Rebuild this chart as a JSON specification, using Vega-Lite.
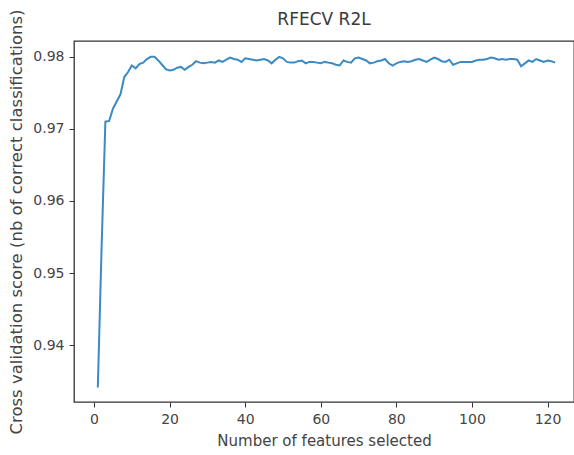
{
  "$schema": "https://vega.github.io/schema/vega-lite/v6.json",
  "width": 500,
  "height": 361,
  "autosize": {"type": "none"},
  "padding": {"left": 74, "top": 41, "right": 0, "bottom": 53},
  "background": "white",
  "title": {"text": "RFECV R2L", "fontSize": 17, "font": "DejaVu Sans", "fontWeight": "normal", "color": "#3a3a3a", "offset": 12, "dy": 32, "anchor": "middle", "frame": "group"},
  "config": {
    "view": {"stroke": "#333", "strokeWidth": 1.3},
    "axis": {"grid": false, "domain": false, "tickColor": "#333", "tickSize": 5, "labelFont": "DejaVu Sans", "labelFontSize": 14, "labelColor": "#444", "titleFont": "DejaVu Sans", "titleFontSize": 15, "titleFontWeight": "normal", "titleColor": "#444"}
  },
  "data": {"values": [
    {"n":1,"score":0.9341},{"n":2,"score":0.9535},{"n":3,"score":0.9710},{"n":4,"score":0.9711},{"n":5,"score":0.9728},{"n":6,"score":0.9738},{"n":7,"score":0.9748},{"n":8,"score":0.9772},{"n":9,"score":0.9779},{"n":10,"score":0.9788},
    {"n":11,"score":0.9784},{"n":12,"score":0.9790},{"n":13,"score":0.9792},{"n":14,"score":0.9797},{"n":15,"score":0.9800},{"n":16,"score":0.9800},{"n":17,"score":0.9795},{"n":18,"score":0.9789},{"n":19,"score":0.9783},{"n":20,"score":0.9781},
    {"n":21,"score":0.9782},{"n":22,"score":0.9785},{"n":23,"score":0.9786},{"n":24,"score":0.9782},{"n":25,"score":0.9786},{"n":26,"score":0.9789},{"n":27,"score":0.9794},{"n":28,"score":0.9792},{"n":29,"score":0.9791},{"n":30,"score":0.9792},
    {"n":31,"score":0.9793},{"n":32,"score":0.9792},{"n":33,"score":0.9795},{"n":34,"score":0.9793},{"n":35,"score":0.9796},{"n":36,"score":0.9799},{"n":37,"score":0.9797},{"n":38,"score":0.9796},{"n":39,"score":0.9793},{"n":40,"score":0.9798},
    {"n":41,"score":0.9797},{"n":42,"score":0.9796},{"n":43,"score":0.9795},{"n":44,"score":0.9796},{"n":45,"score":0.9797},{"n":46,"score":0.9795},{"n":47,"score":0.9791},{"n":48,"score":0.9796},{"n":49,"score":0.9800},{"n":50,"score":0.9798},
    {"n":51,"score":0.9793},{"n":52,"score":0.9792},{"n":53,"score":0.9792},{"n":54,"score":0.9794},{"n":55,"score":0.9795},{"n":56,"score":0.9791},{"n":57,"score":0.9793},{"n":58,"score":0.9793},{"n":59,"score":0.9792},{"n":60,"score":0.9791},
    {"n":61,"score":0.9793},{"n":62,"score":0.9792},{"n":63,"score":0.9791},{"n":64,"score":0.9789},{"n":65,"score":0.9788},{"n":66,"score":0.9795},{"n":67,"score":0.9793},{"n":68,"score":0.9792},{"n":69,"score":0.9798},{"n":70,"score":0.9799},
    {"n":71,"score":0.9797},{"n":72,"score":0.9795},{"n":73,"score":0.9791},{"n":74,"score":0.9792},{"n":75,"score":0.9794},{"n":76,"score":0.9795},{"n":77,"score":0.9797},{"n":78,"score":0.9791},{"n":79,"score":0.9788},{"n":80,"score":0.9791},
    {"n":81,"score":0.9793},{"n":82,"score":0.9794},{"n":83,"score":0.9793},{"n":84,"score":0.9794},{"n":85,"score":0.9796},{"n":86,"score":0.9797},{"n":87,"score":0.9795},{"n":88,"score":0.9793},{"n":89,"score":0.9796},{"n":90,"score":0.9799},
    {"n":91,"score":0.9797},{"n":92,"score":0.9794},{"n":93,"score":0.9793},{"n":94,"score":0.9796},{"n":95,"score":0.9789},{"n":96,"score":0.9791},{"n":97,"score":0.9793},{"n":98,"score":0.9793},{"n":99,"score":0.9793},{"n":100,"score":0.9793},
    {"n":101,"score":0.9795},{"n":102,"score":0.9796},{"n":103,"score":0.9796},{"n":104,"score":0.9797},{"n":105,"score":0.9799},{"n":106,"score":0.9798},{"n":107,"score":0.9796},{"n":108,"score":0.9797},{"n":109,"score":0.9796},{"n":110,"score":0.9797},
    {"n":111,"score":0.9797},{"n":112,"score":0.9796},{"n":113,"score":0.9787},{"n":114,"score":0.9791},{"n":115,"score":0.9795},{"n":116,"score":0.9793},{"n":117,"score":0.9797},{"n":118,"score":0.9795},{"n":119,"score":0.9793},{"n":120,"score":0.9795},
    {"n":121,"score":0.9794},{"n":122,"score":0.9792}
  ]},
  "mark": {"type": "line", "color": "#3c8ac4", "strokeWidth": 2, "clip": true},
  "encoding": {
    "x": {"field": "n", "type": "quantitative", "scale": {"domain": [-5.3, 127], "nice": false, "zero": false}, "axis": {"values": [0, 20, 40, 60, 80, 100, 120], "title": "Number of features selected", "labelPadding": 5, "titlePadding": 7}},
    "y": {"field": "score", "type": "quantitative", "scale": {"domain": [0.9321, 0.9822], "nice": false, "zero": false}, "axis": {"values": [0.94, 0.95, 0.96, 0.97, 0.98], "format": ".2f", "title": "Cross validation score (nb of correct classifications)", "titleFontSize": 16.5, "labelPadding": 5, "titlePadding": 8}}
  }
}
